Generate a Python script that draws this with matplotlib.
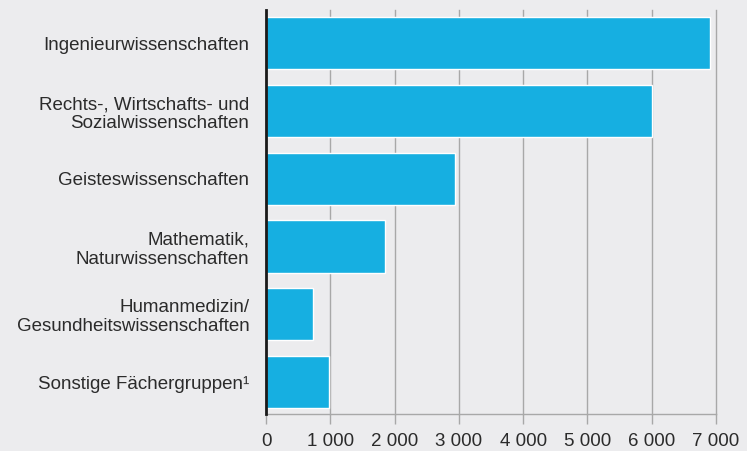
import matplotlib
matplotlib.use("Agg")
import matplotlib.pyplot as plt
import numpy as np

categories = [
    "Ingenieurwissenschaften",
    "Rechts-, Wirtschafts- und\nSozialwissenschaften",
    "Geisteswissenschaften",
    "Mathematik,\nNaturwissenschaften",
    "Humanmedizin/\nGesundheitswissenschaften",
    "Sonstige Fächergruppen¹",
]
values = [6900, 6000, 2940, 1850, 730, 980]
tick_values = [0, 1000, 2000, 3000, 4000, 5000, 6000, 7000]
tick_labels = ["0", "1 000", "2 000", "3 000", "4 000",
               "5 000", "6 000", "7 000"]

plt.rcParams['font.family'] = ['Liberation Sans', 'DejaVu Sans']
bg = "#ececee"
bar_color = "#16afe1"
text_color = "#2b2b2b"
grid_color = "#a8a8a8"

fig = plt.figure(figsize=(7.47, 4.51), dpi=100, facecolor=bg)
ax = fig.add_axes([266/747, 1-414/451, (716-266)/747, (414-10)/451])
ax.set_facecolor(bg)

y = np.arange(len(categories))
ax.barh(y, values, height=0.77, color=bar_color, edgecolor="white",
        linewidth=1.0, zorder=3)
ax.set_ylim(len(categories) - 1 + 0.47, -0.49)
ax.set_xlim(0, 7000)

ax.set_xticks(tick_values)
ax.set_xticklabels(tick_labels, fontsize=13.5, color=text_color)
ax.set_yticks(y)
ax.set_yticklabels(categories, fontsize=13.5, color=text_color,
                   linespacing=1.15)
ax.tick_params(axis='y', length=0, pad=12)
ax.tick_params(axis='x', length=7, width=1.0, color=grid_color, pad=7)

ax.xaxis.grid(True, color=grid_color, linewidth=1.0, zorder=0)
for gl in ax.get_xgridlines():
    gl.set_clip_on(False)
ax.set_axisbelow(True)

for s in ["top", "right"]:
    ax.spines[s].set_visible(False)
ax.spines["bottom"].set_color(grid_color)
ax.spines["bottom"].set_linewidth(1.0)
ax.spines["left"].set_color("#1a1a1a")
ax.spines["left"].set_linewidth(2.0)
ax.spines["left"].set_zorder(4)

fig.savefig("out.png", dpi=100, facecolor=bg)
